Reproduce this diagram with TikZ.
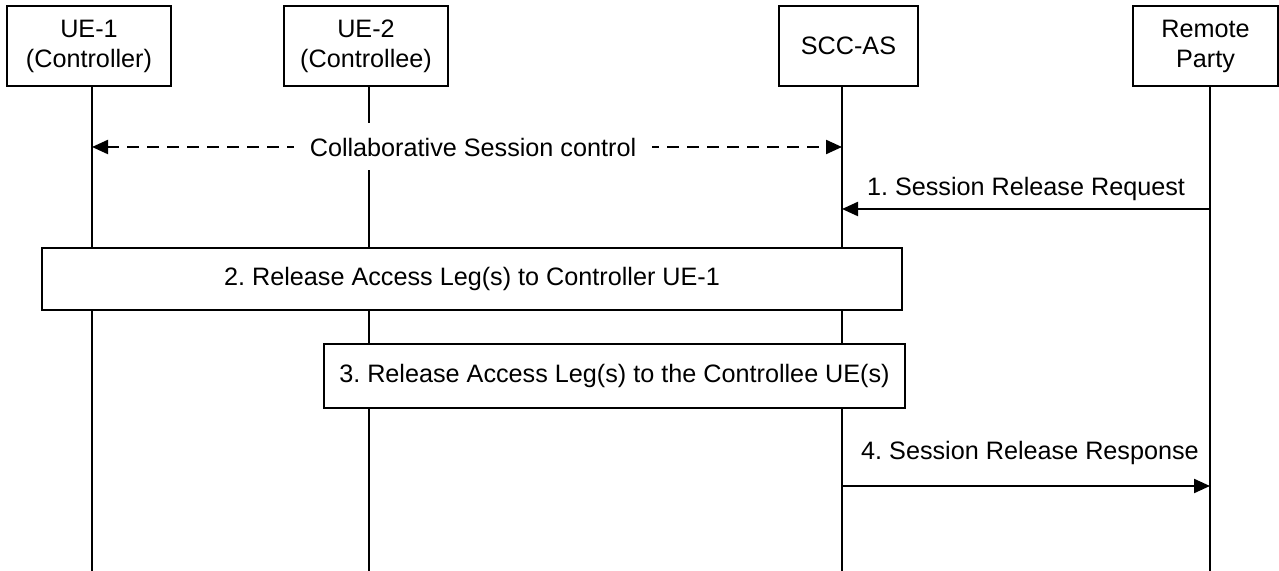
\documentclass[tikz,border=0pt]{standalone}
\usepackage{fontspec}
\setmainfont{Liberation Sans}
\usetikzlibrary{arrows.meta}
\frenchspacing
\begin{document}
\begin{tikzpicture}[x=0.5pt,y=-0.5pt,
  every node/.style={font=\fontsize{12.6}{15}\selectfont},
  actor/.style={draw, line width=1pt, fill=white, align=center, inner sep=0pt, minimum height=40pt},
  lifeline/.style={line width=0.8pt},
  msg/.style={line width=1.1pt, -{Triangle[length=8pt,width=7pt]}},
  ctrl/.style={line width=1.1pt, dash pattern=on 6pt off 4pt, {Triangle[length=8pt,width=7pt]}-{Triangle[length=8pt,width=7pt]}},
  procbox/.style={draw, line width=1pt, fill=white, inner sep=0pt},
  lbl/.style={anchor=base, inner sep=0pt},
]
\useasboundingbox (0,0) rectangle (1279,571);

% lifeline end points
\coordinate (l1t) at (92,86);   \coordinate (l1b) at (92,571);
\coordinate (l2t) at (369,86);  \coordinate (l2b) at (369,571);
\coordinate (l3t) at (842,86);  \coordinate (l3b) at (842,571);
\coordinate (l4t) at (1210,86); \coordinate (l4b) at (1210,571);

\draw[lifeline] (l1t) -- (l1b);
\draw[lifeline] (l2t) -- (l2b);
\draw[lifeline] (l3t) -- (l3b);
\draw[lifeline] (l4t) -- (l4b);

% actors
\node[actor, minimum width=82pt] (ue1) at (89,46) {UE-1\\(Controller)};
\node[actor, minimum width=82pt] (ue2) at (366,46) {UE-2\\(Controllee)};
\node[actor, minimum width=69.5pt] (scc) at (848.5,46) {SCC-AS};
\node[actor, minimum width=72.5pt] (rp) at (1205.5,46) {Remote\\Party};

% collaborative session control
\coordinate (c1) at (92,147);
\coordinate (c3) at (842,147);
\draw[ctrl] (c1) -- (c3);
\node[fill=white, inner xsep=8pt, inner ysep=0pt, minimum height=23.5pt] (ctl) at (473,147) {Collaborative Session control};

% 1. request
\coordinate (m1s) at (1210,209);
\coordinate (m1e) at (842,209);
\draw[msg] (m1s) -- (m1e);
\node[lbl] (m1l) at (1026,196) {1. Session Release Request};

% 2. box
\node[procbox, minimum width=430pt, minimum height=31pt] (b2) at (472,279) {2. Release Access Leg(s) to Controller UE-1};

% 3. box
\node[procbox, minimum width=290.5pt, minimum height=32pt] (b3) at (614.5,376) {3. Release Access Leg(s) to the Controllee UE(s)};

% 4. response
\coordinate (m4s) at (842,486);
\coordinate (m4e) at (1210,486);
\draw[msg] (m4s) -- (m4e);
\node[lbl] (m4l) at (1030,459) {4. Session Release Response};
\end{tikzpicture}
\end{document}
